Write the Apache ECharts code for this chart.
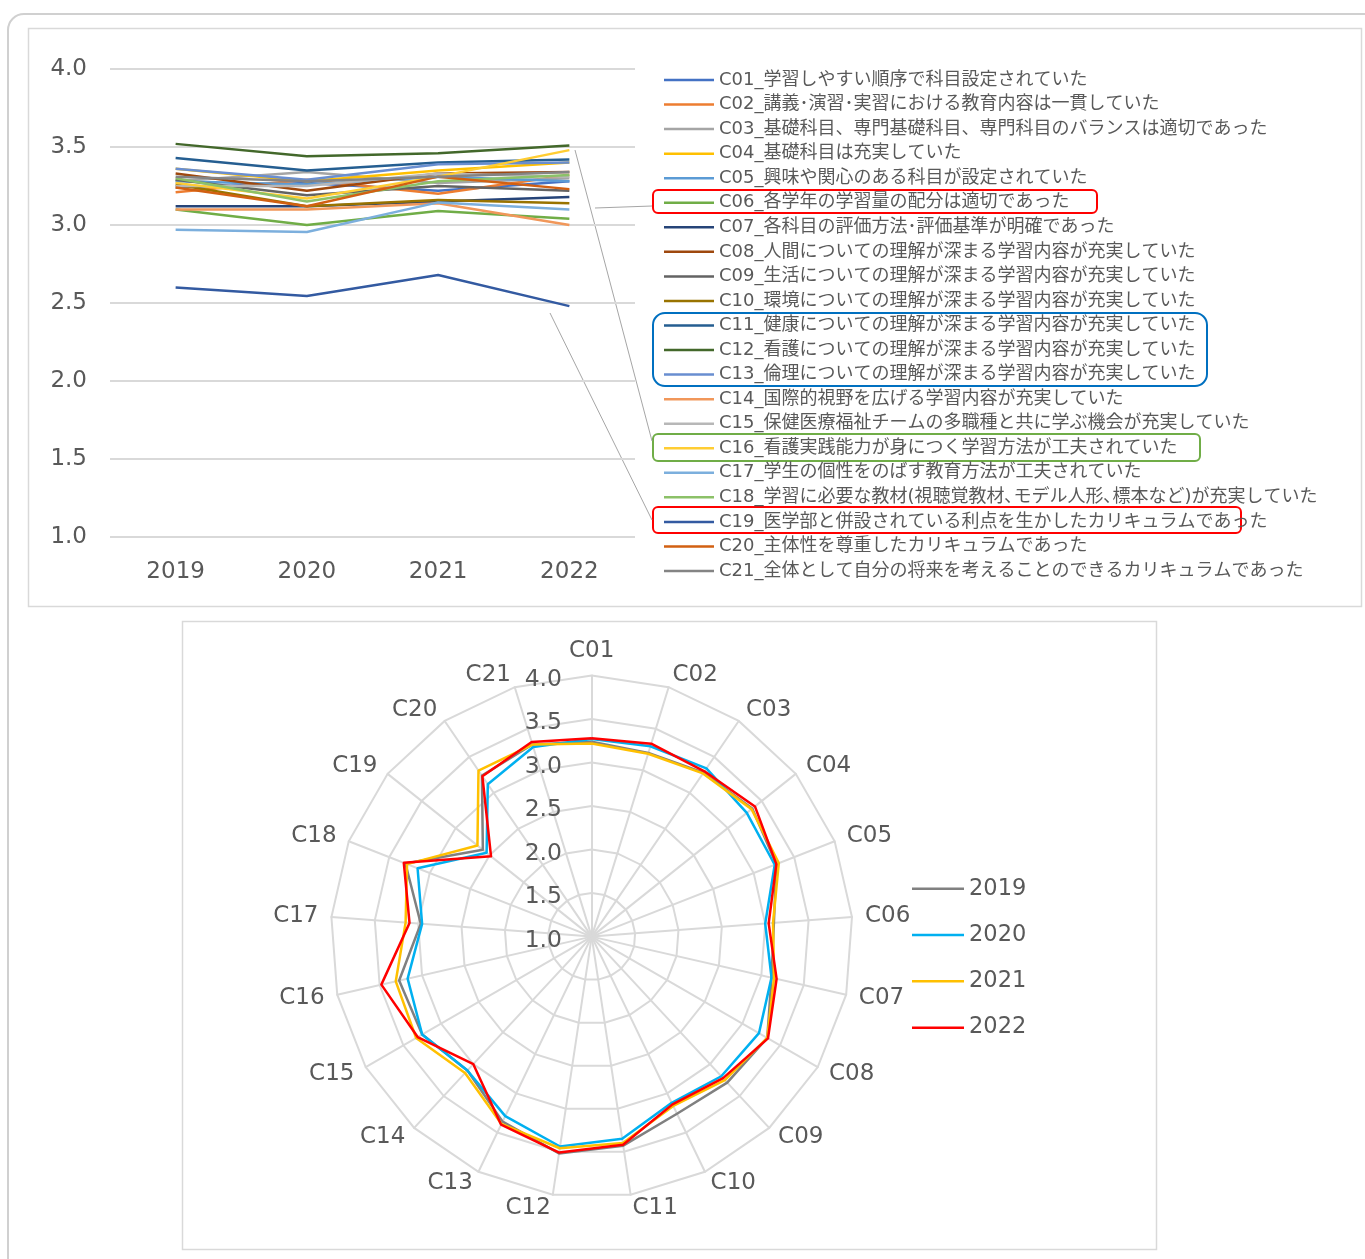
<!DOCTYPE html>
<html>
<head>
<meta charset="utf-8">
<script src="https://cdn.jsdelivr.net/npm/echarts@6/dist/echarts.min.js"></script>
<style>
  html, body { margin: 0; padding: 0; background: #ffffff; }
  #chart { width: 1365px; height: 1259px; }
</style>
</head>
<body>
<div id="chart"></div>
<script>
// Survey years (x categories of the line chart, series of the radar chart)
const years = ['2019', '2020', '2021', '2022'];

// Question codes and their wording
const codes = ['C01','C02','C03','C04','C05','C06','C07','C08','C09','C10','C11',
               'C12','C13','C14','C15','C16','C17','C18','C19','C20','C21'];
const itemLabels = [
  '学習しやすい順序で科目設定されていた',
  '講義･演習･実習における教育内容は一貫していた',
  '基礎科目、専門基礎科目、専門科目のバランスは適切であった',
  '基礎科目は充実していた',
  '興味や関心のある科目が設定されていた',
  '各学年の学習量の配分は適切であった',
  '各科目の評価方法･評価基準が明確であった',
  '人間についての理解が深まる学習内容が充実していた',
  '生活についての理解が深まる学習内容が充実していた',
  '環境についての理解が深まる学習内容が充実していた',
  '健康についての理解が深まる学習内容が充実していた',
  '看護についての理解が深まる学習内容が充実していた',
  '倫理についての理解が深まる学習内容が充実していた',
  '国際的視野を広げる学習内容が充実していた',
  '保健医療福祉チームの多職種と共に学ぶ機会が充実していた',
  '看護実践能力が身につく学習方法が工夫されていた',
  '学生の個性をのばす教育方法が工夫されていた',
  '学習に必要な教材(視聴覚教材､モデル人形､標本など)が充実していた',
  '医学部と併設されている利点を生かしたカリキュラムであった',
  '主体性を尊重したカリキュラムであった',
  '全体として自分の将来を考えることのできるカリキュラムであった'
];

// Mean scores per year, one value per question (C01..C21)
const scores2019 = [3.24, 3.21, 3.28, 3.36, 3.28, 3.10, 3.12, 3.33, 3.29, 3.26, 3.43,
                    3.52, 3.36, 3.10, 3.25, 3.27, 2.97, 3.30, 2.60, 3.24, 3.31];
const scores2020 = [3.27, 3.29, 3.34, 3.28, 3.26, 3.00, 3.12, 3.22, 3.19, 3.12, 3.35,
                    3.44, 3.29, 3.10, 3.25, 3.17, 2.955, 3.15, 2.545, 3.12, 3.28];
const scores2021 = [3.22, 3.20, 3.27, 3.35, 3.31, 3.09, 3.15, 3.33, 3.25, 3.16, 3.40,
                    3.46, 3.39, 3.14, 3.33, 3.31, 3.145, 3.28, 2.68, 3.31, 3.31];
const scores2022 = [3.28, 3.32, 3.30, 3.40, 3.28, 3.04, 3.18, 3.34, 3.22, 3.14, 3.42,
                    3.51, 3.40, 3.00, 3.31, 3.48, 3.10, 3.32, 2.48, 3.23, 3.34];

// Score scale shared by both charts
const scaleMin = 1.0;
const scaleMax = 4.0;
const scaleStep = 0.5;

// Styling
const lineColors = ['#4472C4','#ED7D31','#A5A5A5','#FFC000','#5B9BD5','#70AD47','#264478',
                    '#9E480E','#636363','#997300','#255E91','#43682B','#698ED0','#F1975A',
                    '#B7B7B7','#FFCD33','#7CAFDD','#8CC168','#335AA1','#D26012','#848484'];
const yearColors = ['#808080', '#00B0F0', '#FFC000', '#FF0000'];
const FONT = '"DejaVu Sans", "Noto Sans CJK JP", sans-serif';
const TEXT = '#595959';
const GRID = '#d9d9d9';

const scoresByYear = [scores2019, scores2020, scores2021, scores2022];
const lineNames = codes.map((c, i) => c + '_' + itemLabels[i]);

// Radar axes run counter-clockwise, so list C01 first then C21..C02
const radarOrder = [0].concat(codes.map((c, i) => i).slice(1).reverse());

const lineSeries = codes.map((c, i) => ({
  type: 'line',
  name: lineNames[i],
  xAxisIndex: 0,
  yAxisIndex: 0,
  data: years.map((y, k) => scoresByYear[k][i]),
  symbol: 'none',
  lineStyle: { width: 2.5, color: lineColors[i] },
  itemStyle: { color: lineColors[i] },
  emphasis: { disabled: true }
}));

const radarSeries = {
  type: 'radar',
  radarIndex: 0,
  symbol: 'none',
  emphasis: { disabled: true },
  data: years.map((y, k) => ({
    name: y,
    value: radarOrder.map(i => scoresByYear[k][i]),
    lineStyle: { width: 2.5, color: yearColors[k] },
    itemStyle: { color: yearColors[k] }
  }))
};

const fmt = v => v.toFixed(1);

const chart = echarts.init(document.getElementById('chart'), null, { renderer: 'canvas' });
chart.setOption({
  animation: false,
  backgroundColor: '#ffffff',
  textStyle: { fontFamily: FONT },
  grid: [
    { left: 110, top: 69, width: 525, height: 468 },
    { left: 592, top: 679.5, width: 1, height: 261 }
  ],
  xAxis: [
    {
      type: 'category', gridIndex: 0, data: years, boundaryGap: true,
      axisLine: { show: false }, axisTick: { show: false },
      axisLabel: { fontSize: 23, color: TEXT, margin: 24, fontFamily: FONT }
    },
    { type: 'value', gridIndex: 1, show: false, min: 0, max: 1 }
  ],
  yAxis: [
    {
      type: 'value', gridIndex: 0, min: scaleMin, max: scaleMax, interval: scaleStep,
      axisLine: { show: false }, axisTick: { show: false },
      axisLabel: { formatter: fmt, fontSize: 23, color: TEXT, margin: 23, fontFamily: FONT },
      splitLine: { lineStyle: { color: GRID, width: 2 } }
    },
    {
      type: 'value', gridIndex: 1, min: scaleMin, max: scaleMax, interval: scaleStep, z: 5,
      axisLine: { show: false }, axisTick: { show: false }, splitLine: { show: false },
      axisLabel: { formatter: fmt, fontSize: 23.5, color: TEXT, margin: 30, fontFamily: FONT }
    }
  ],
  radar: {
    center: [591.7, 936.6],
    radius: 261,
    startAngle: 90,
    shape: 'polygon',
    splitNumber: 6,
    nameGap: 13,
    indicator: radarOrder.map(i => ({ name: codes[i], min: scaleMin, max: scaleMax })),
    axisName: { color: TEXT, fontSize: 23, fontFamily: FONT, padding: [4, 0, 0, 0] },
    axisLine: { lineStyle: { color: GRID, width: 2 } },
    splitLine: { lineStyle: { color: GRID, width: 2 } },
    splitArea: { show: false }
  },
  legend: [
    {
      data: lineNames, orient: 'vertical', left: 664, top: 71, padding: 0,
      icon: 'rect', itemWidth: 50, itemHeight: 2.5, itemGap: 6.55,
      selectedMode: false,
      textStyle: { fontSize: 18, lineHeight: 18, color: TEXT, fontFamily: FONT }
    },
    {
      data: years, orient: 'vertical', left: 912, top: 877.5, padding: 0,
      icon: 'rect', itemWidth: 52, itemHeight: 2.5, itemGap: 23.8,
      selectedMode: false,
      textStyle: { fontSize: 22.5, lineHeight: 22.5, color: TEXT, fontFamily: FONT }
    }
  ],
  graphic: [
    // outer frame and the two chart panels
    { type: 'rect', silent: true, shape: { x: 8, y: 14, width: 1390, height: 1280, r: 16 },
      style: { fill: 'none', stroke: '#d0d0d0', lineWidth: 2 } },
    { type: 'rect', silent: true, shape: { x: 28.5, y: 28.5, width: 1333, height: 578 },
      style: { fill: 'none', stroke: GRID, lineWidth: 1.5 } },
    { type: 'rect', silent: true, shape: { x: 182.5, y: 621.5, width: 974, height: 628 },
      style: { fill: 'none', stroke: GRID, lineWidth: 1.5 } },
    // highlight boxes around legend entries
    { type: 'rect', silent: true, shape: { x: 653, y: 190, width: 444, height: 23, r: 5 },
      style: { fill: 'none', stroke: '#FF0000', lineWidth: 2 } },
    { type: 'rect', silent: true, shape: { x: 653, y: 313, width: 554, height: 73, r: 12 },
      style: { fill: 'none', stroke: '#0070C0', lineWidth: 2 } },
    { type: 'rect', silent: true, shape: { x: 653, y: 434, width: 547, height: 27, r: 5 },
      style: { fill: 'none', stroke: '#70AD47', lineWidth: 2 } },
    { type: 'rect', silent: true, shape: { x: 653, y: 507, width: 588, height: 26, r: 5 },
      style: { fill: 'none', stroke: '#FF0000', lineWidth: 2 } },
    // callout leaders
    { type: 'line', silent: true, shape: { x1: 595, y1: 208, x2: 652, y2: 206 },
      style: { stroke: '#a6a6a6', lineWidth: 1 } },
    { type: 'line', silent: true, shape: { x1: 575, y1: 150, x2: 652, y2: 441 },
      style: { stroke: '#a6a6a6', lineWidth: 1 } },
    { type: 'line', silent: true, shape: { x1: 550, y1: 313, x2: 652, y2: 520 },
      style: { stroke: '#a6a6a6', lineWidth: 1 } }
  ],
  series: lineSeries.concat([radarSeries])
});
</script>
</body>
</html>
